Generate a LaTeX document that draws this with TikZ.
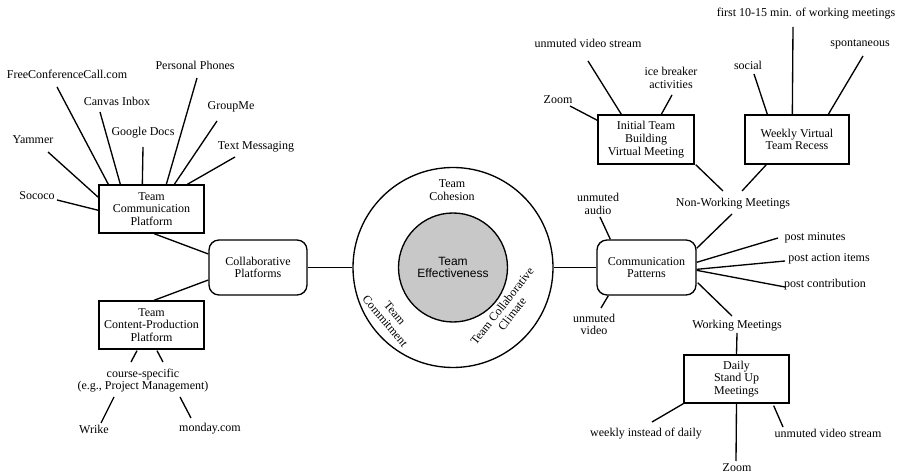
\documentclass[tikz,border=0pt]{standalone}
\usepackage{fontspec}
\setmainfont{Liberation Serif}
\setsansfont{Liberation Sans}
\definecolor{cgray}{RGB}{200,200,200}
\begin{document}
\begin{tikzpicture}[x=0.75pt,y=-0.75pt,
  every node/.style={font=\fontsize{9}{9.5}\selectfont},
  lbl/.style={inner sep=0pt,align=center},
  box/.style={draw,line width=1pt,align=center,inner sep=1pt},
  rbox/.style={box,rounded corners=7.5pt},
  conn/.style={line width=1pt},
]
\useasboundingbox[fill=white] (0,0) rectangle (907,473);

% ---------- boxes ----------
\node[box,minimum width=78.75pt,minimum height=36pt] (tcp) at (151.5,209) {Team\\Communication\\Platform};
\node[rbox,minimum width=73.5pt,minimum height=41.25pt] (collab) at (258,267.5) {Collaborative\\Platforms};
\node[box,minimum width=78.75pt,minimum height=36pt] (tcpp) at (151.5,325) {Team\\Content-Production\\Platform};
\node[rbox,minimum width=74.25pt,minimum height=41.25pt] (comm) at (646.5,267.5) {Communication\\Patterns};
\node[box,minimum width=72pt,minimum height=36.75pt] (itb) at (646,139.5) {Initial Team\\Building\\Virtual Meeting};
\node[box,minimum width=78pt,minimum height=36.75pt] (wvtr) at (797,139.5) {Weekly Virtual\\Team Recess};
\node[box,minimum width=78.75pt,minimum height=36pt] (dsu) at (736.5,379) {Daily\\Stand Up\\Meetings};

% ---------- centre circles ----------
\node[circle,draw,line width=1pt,minimum size=150pt,inner sep=0pt] (outer) at (453,267.5) {};
\node[circle,draw,line width=1pt,fill=cgray,minimum size=81.75pt,inner sep=0pt,align=center,
      font={\fontsize{9}{9.5}\selectfont\sffamily}] (inner) at (453,267.5) {Team\\Effectiveness};
\node[lbl] (coh) at (452,190) {Team\\Cohesion};
\node[lbl,rotate=-50] (cmt) at (390,317) {Team\\Commitment};
\node[lbl,rotate=52] (clim) at (507,310) {Team Collaborative\\Climate};

% ---------- left labels ----------
\node[lbl] (fcc) at (67,74) {FreeConferenceCall.com};
\node[lbl] (canvas) at (117,101) {Canvas Inbox};
\node[lbl] (gdocs) at (143,133) {Google Docs};
\node[lbl] (phones) at (195,65) {Personal Phones};
\node[lbl] (groupme) at (231,107) {GroupMe};
\node[lbl] (textmsg) at (256,147) {Text Messaging};
\node[lbl] (yammer) at (33,140) {Yammer};
\node[lbl] (sococo) at (37,196) {Sococo};
\node[lbl] (course) at (143,380.5) {course-specific\\(e.g., Project Management)};
\node[lbl] (wrike) at (94,429) {Wrike};
\node[lbl] (monday) at (210,429) {monday.com};

% ---------- right labels ----------
\node[lbl] (aud) at (598,204) {unmuted\\audio};
\node[lbl] (vid) at (594,324.5) {unmuted\\video};
\node[lbl] (nwm) at (733,204) {Non-Working Meetings};
\node[lbl] (pmin) at (815,238) {post minutes};
\node[lbl] (pact) at (829,259) {post action items};
\node[lbl] (pcon) at (825,285) {post contribution};
\node[lbl] (wm) at (737,326) {Working Meetings};
\node[lbl] (weekly) at (646,434) {weekly instead of daily};
\node[lbl] (zoomb) at (737,468) {Zoom};
\node[lbl] (uvsb) at (828,433) {unmuted video stream};
\node[lbl] (zoomt) at (558,100) {Zoom};
\node[lbl] (uvst) at (588,43) {unmuted video stream};
\node[lbl] (ice) at (671,78) {ice breaker\\activities};
\node[lbl] (social) at (748,65) {social};
\node[lbl] (first) at (806,14) {first 10-15 min. of working meetings};
\node[lbl] (spont) at (860,44) {spontaneous};

% ---------- connectors: left ----------
\draw[conn] ([shift={(-10,13)}]fcc.center) -- ([shift={(10,0)}]tcp.north west);
\draw[conn] ([shift={(-17,11)}]canvas.center) -- ([shift={(22,0)}]tcp.north west);
\draw[conn] ([shift={(0,14)}]gdocs.center) -- ([shift={(44,0)}]tcp.north west);
\draw[conn] ([shift={(2,13)}]phones.center) -- ([shift={(68,0)}]tcp.north west);
\draw[conn] ([shift={(-14,14)}]groupme.center) -- ([shift={(76,0)}]tcp.north west);
\draw[conn] ([shift={(-21,10)}]textmsg.center) -- ([shift={(89,0)}]tcp.north west);
\draw[conn] ([shift={(15,12)}]yammer.center) -- ([shift={(0,13)}]tcp.north west);
\draw[conn] ([shift={(20,4)}]sococo.center) -- ([shift={(0,26)}]tcp.north west);
\draw[conn] ([shift={(2.5,0)}]tcp.south) -- ([shift={(0,-13.5)}]collab.west);
\draw[conn] ([shift={(0,12.5)}]collab.west) -- ([shift={(2.5,0)}]tcpp.north);
\draw[conn] ([shift={(-14.5,1)}]tcpp.south) -- ([shift={(-12,-18.5)}]course.center);
\draw[conn] ([shift={(5.5,1)}]tcpp.south) -- ([shift={(20,-18.5)}]course.center);
\draw[conn] ([shift={(-29,16.5)}]course.center) -- ([shift={(7,-6)}]wrike.center);
\draw[conn] ([shift={(37,16.5)}]course.center) -- ([shift={(-19,-11)}]monday.center);
\draw[conn] (collab.east) -- (outer.west);
\draw[conn] (outer.east) -- (comm.west);

% ---------- connectors: right ----------
\draw[conn] ([shift={(2,13)}]aud.center) -- ([shift={(14,0)}]comm.north west);
\draw[conn] ([shift={(12,0)}]comm.south west) -- ([shift={(7,-16.5)}]vid.center);
\draw[conn] ([shift={(-1,10)}]nwm.center) -- ([shift={(0,9)}]comm.north east);
\draw[conn] ([shift={(0,23)}]comm.north east) -- ([shift={(-37,0)}]pmin.center);
\draw[conn] ([shift={(0,30)}]comm.north east) -- ([shift={(-44,2)}]pact.center);
\draw[conn] ([shift={(0,31)}]comm.north east) -- ([shift={(-40,2)}]pcon.center);
\draw[conn] ([shift={(1,-13)}]comm.south east) -- ([shift={(-5,-10)}]wm.center);
\draw[conn] ([shift={(0,7)}]wm.center) -- (dsu.north);
\draw[conn] (dsu.south west) -- ([shift={(6,-12)}]weekly.center);
\draw[conn] (dsu.south) -- ([shift={(-1,-7)}]zoomb.center);
\draw[conn] ([shift={(-16,2)}]dsu.south east) -- ([shift={(-45,-6)}]uvsb.center);
\draw[conn] ([shift={(12,6)}]zoomt.center) -- ([shift={(0,6)}]itb.north west);
\draw[conn] ([shift={(0,18)}]uvst.center) -- ([shift={(24,0)}]itb.north west);
\draw[conn] ([shift={(1,17)}]ice.center) -- ([shift={(64,0)}]itb.north west);
\draw[conn] ([shift={(6,9)}]social.center) -- ([shift={(23,0)}]wvtr.north west);
\draw[conn] ([shift={(-13,13)}]first.center) -- ([shift={(48,0)}]wvtr.north west);
\draw[conn] ([shift={(3,12)}]spont.center) -- ([shift={(84,0)}]wvtr.north west);
\draw[conn] ([shift={(1,0)}]itb.south east) -- ([shift={(-10,-13)}]nwm.center);
\draw[conn] ([shift={(22,0)}]wvtr.south west) -- ([shift={(9,-13)}]nwm.center);
\end{tikzpicture}
\end{document}
